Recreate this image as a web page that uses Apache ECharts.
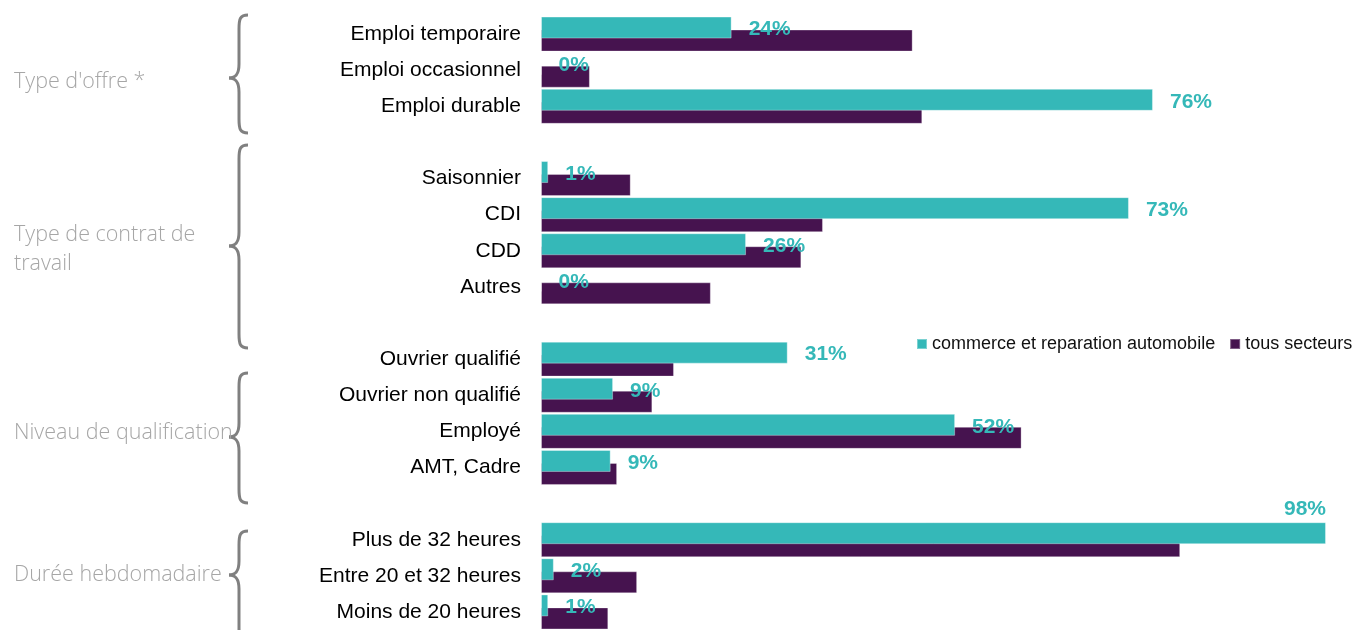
<!DOCTYPE html>
<html>
<head>
<meta charset="utf-8">
<script src="https://cdn.jsdelivr.net/npm/echarts@6/dist/echarts.min.js"></script>
<style>
html,body{margin:0;padding:0;background:#fff;}
#chart{width:1368px;height:630px;}
</style>
</head>
<body>
<div id="chart"></div>
<script>
// lignes du graphique (les libellés vides servent d'espace entre les groupes)
var categories = ['Emploi temporaire', 'Emploi occasionnel', 'Emploi durable', '',
    'Saisonnier', 'CDI', 'CDD', 'Autres', ' ',
    'Ouvrier qualifié', 'Ouvrier non qualifié', 'Employé', 'AMT, Cadre', '  ',
    'Plus de 32 heures', 'Entre 20 et 32 heures', 'Moins de 20 heures'];
var commerceValues = [23.8, 0, 76.4, '-', 0.9, 73.4, 25.6, 0, '-', 30.8, 9.0, 51.7, 8.7, '-', 98, 1.6, 0.9];
var tousValues = [46.4, 6.1, 47.6, '-', 11.2, 35.2, 32.5, 21.2, '-', 16.6, 13.9, 60.0, 9.5, '-', 79.8, 12.0, 8.4];
var seriesNames = ['commerce et reparation automobile', 'tous secteurs'];
var groupNames = ["Type d'offre *", 'Type de contrat de\ntravail', 'Niveau de qualification', 'Durée hebdomadaire'];

var teal = '#35b8b8';
var purple = '#46134f';

var myChart = echarts.init(document.getElementById('chart'));

// accolade : x de la barre verticale, haut, pointe, bas
function brace(x, top, tip, bottom) {
    var st = {fill: null, stroke: '#808080', lineWidth: 3};
    var curve = function (x1, y1, c1x, c1y, c2x, c2y, x2, y2) {
        return {type: 'bezierCurve', silent: true, style: st,
            shape: {x1: x1, y1: y1, cpx1: c1x, cpy1: c1y, cpx2: c2x, cpy2: c2y, x2: x2, y2: y2}};
    };
    var line = function (y1, y2) {
        return {type: 'line', silent: true, style: st, shape: {x1: x, y1: y1, x2: x, y2: y2}};
    };
    return [
        curve(x + 9, top, x + 1, top, x, top + 4, x, top + 14),
        line(top + 14, tip - 14),
        curve(x, tip - 14, x, tip - 4, x - 3, tip, x - 10, tip),
        curve(x - 10, tip, x - 3, tip, x, tip + 4, x, tip + 14),
        line(tip + 14, bottom - 14),
        curve(x, bottom - 14, x, bottom - 4, x + 1, bottom, x + 9, bottom)
    ];
}
var braces = [[15, 78, 133], [145, 246, 348], [373, 437, 503], [531, 575, 642]];
var groupPos = [80, 247, 431, 573];

var graphics = [];
braces.forEach(function (b) {
    graphics = graphics.concat(brace(239, b[0], b[1], b[2]));
});
groupNames.forEach(function (name, i) {
    graphics.push({
        type: 'text',
        left: 14,
        top: groupPos[i] - (name.indexOf('\n') >= 0 ? 27 : 13),
        style: {
            text: name,
            fill: '#a6a6a6',
            font: '300 21.5px "Open Sans", sans-serif',
            lineHeight: 29
        }
    });
});

var option = {
    animation: false,
    grid: {left: 541, right: 26, top: 16, bottom: 0, containLabel: false},
    legend: {
        data: seriesNames,
        left: 911,
        top: 330,
        itemWidth: 10,
        itemHeight: 10,
        itemGap: 14,
        icon: 'rect',
        textStyle: {color: '#111', fontSize: 18, fontFamily: 'Liberation Sans, Arial, sans-serif'}
    },
    xAxis: {
        type: 'value',
        min: 0,
        max: 100,
        show: false
    },
    yAxis: {
        type: 'category',
        inverse: true,
        data: categories,
        axisLine: {show: false},
        axisTick: {show: false},
        axisLabel: {
            margin: 20,
            color: '#000',
            fontSize: 21,
            fontFamily: 'Liberation Sans, Arial, sans-serif'
        }
    },
    graphic: graphics,
    series: [
        {
            name: seriesNames[0],
            type: 'bar',
            z: 3,
            barWidth: 22,
            barGap: '-41%',
            itemStyle: {color: teal, borderColor: 'rgba(255,255,255,0.35)', borderWidth: 1},
            label: {
                show: true,
                position: 'right',
                distance: 17,
                offset: [0, 2],
                color: teal,
                fontWeight: 'bold',
                fontSize: 21,
                fontFamily: 'Liberation Sans, Arial, sans-serif',
                formatter: function (p) {
                    return Math.round(p.value) + '%';
                }
            },
            data: commerceValues.map(function (v) {
                // la barre la plus longue a son étiquette au-dessus
                if (v !== '-' && v > 90) {
                    return {value: v, label: {position: ['100%', 0], align: 'right', verticalAlign: 'bottom', offset: [0, -3]}};
                }
                return v;
            })
        },
        {
            name: seriesNames[1],
            type: 'bar',
            z: 2,
            barWidth: 22,
            barGap: '-41%',
            itemStyle: {color: purple, borderColor: 'rgba(255,255,255,0.3)', borderWidth: 1},
            data: tousValues
        }
    ]
};
myChart.setOption(option);
</script>
</body>
</html>
